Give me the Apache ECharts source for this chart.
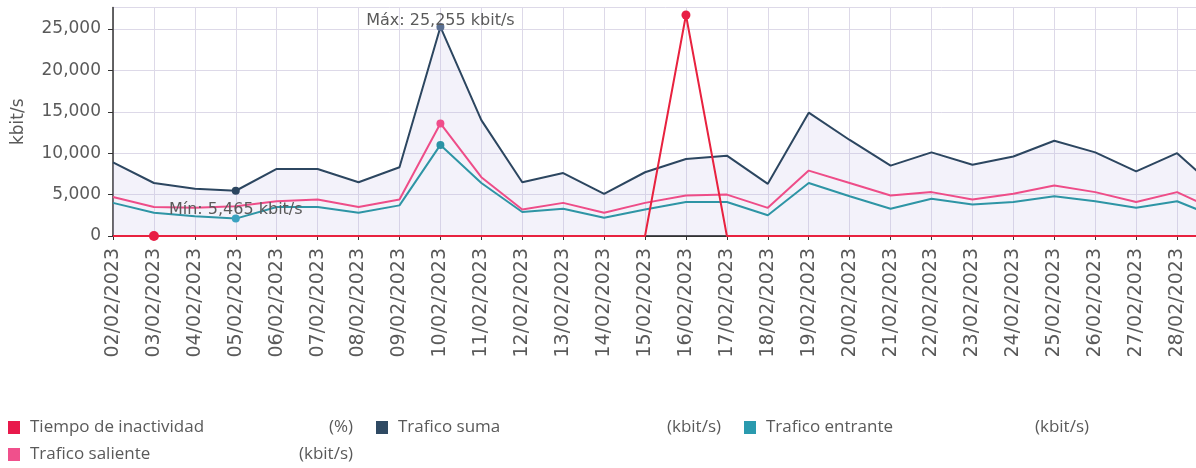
<!DOCTYPE html>
<html>
<head>
<meta charset="utf-8">
<script src="https://cdn.jsdelivr.net/npm/echarts@6/dist/echarts.min.js"></script>
<style>
html, body { margin: 0; padding: 0; background: #ffffff; overflow: hidden; }
/* el grafico original esta recortado a la derecha: el lienzo es mas ancho que la ventana */
#chart { width: 1230px; height: 468px; }
</style>
</head>
<body>
<div id="chart"></div>
<script>
// fechas (la ultima queda fuera del recorte, a la derecha)
var dates = ['02/02/2023', '03/02/2023', '04/02/2023', '05/02/2023', '06/02/2023', '07/02/2023',
  '08/02/2023', '09/02/2023', '10/02/2023', '11/02/2023', '12/02/2023', '13/02/2023', '14/02/2023',
  '15/02/2023', '16/02/2023', '17/02/2023', '18/02/2023', '19/02/2023', '20/02/2023', '21/02/2023',
  '22/02/2023', '23/02/2023', '24/02/2023', '25/02/2023', '26/02/2023', '27/02/2023', '28/02/2023',
  '01/03/2023']

var traficoSuma = [8900, 6400, 5700, 5465, 8100, 8100, 6500, 8300, 25255, 14000, 6500, 7600, 5100,
  7700, 9300, 9700, 6300, 14900, 11600, 8500, 10100, 8600, 9600, 11500, 10100, 7800, 10000, 5600]
var traficoSaliente = [4700, 3500, 3400, 3600, 4200, 4400, 3500, 4400, 13600, 7100, 3200, 4000, 2800,
  4000, 4900, 5000, 3400, 7900, 6400, 4900, 5300, 4400, 5100, 6100, 5300, 4100, 5300, 3000]
var traficoEntrante = [4000, 2800, 2400, 2100, 3500, 3500, 2800, 3700, 11000, 6400, 2900, 3300, 2200,
  3200, 4100, 4100, 2500, 6400, 4800, 3300, 4500, 3800, 4100, 4800, 4200, 3400, 4200, 2200]
var tiempoInactividad = [0, 0, 0, 0, 0, 0, 0, 0, 0, 0, 0, 0, 0,
  0, 26700, 0, 0, 0, 0, 0, 0, 0, 0, 0, 0, 0, 0, 0]

var yTicks = [0, 5000, 10000, 15000, 20000, 25000]

var seriesNames = ['Tiempo de inactividad', 'Trafico suma', 'Trafico entrante', 'Trafico saliente']
var seriesUnits = ['(%)', '(kbit/s)', '(kbit/s)', '(kbit/s)']

// puntos marcados (indices en dates)
var sumaMaxIdx = 8
var sumaMinIdx = 3
var inactMaxIdx = 14
var inactMinIdx = 1

var txt = '#5a5a5a'
var grid = '#ddd9e8'
var legendFont = 'Open Sans'

function fmt (v) {
  return Number(v).toLocaleString('en-US')
}

function dot (color, idx, values, size) {
  return { coord: [dates[idx], values[idx]], symbol: 'circle', symbolSize: size || 8,
    itemStyle: { color: color }, label: { show: false } }
}

function legendBox (names, top) {
  return {
    data: names,
    left: 8,
    top: top,
    padding: 0,
    itemGap: 23,
    itemWidth: 12,
    itemHeight: 13,
    icon: 'rect',
    formatter: function (name) {
      return '{n|' + name + '}{u|' + seriesUnits[seriesNames.indexOf(name)] + '}'
    },
    textStyle: {
      fontFamily: legendFont,
      fontSize: 17,
      color: txt,
      rich: {
        n: { width: 257, padding: [0, 0, 0, 5], fontFamily: legendFont, fontSize: 17, color: txt },
        u: { width: 66, align: 'right', fontFamily: legendFont, fontSize: 17, color: txt }
      }
    }
  }
}

var chart = echarts.init(document.getElementById('chart'))
chart.setOption({
  animation: false,
  backgroundColor: '#ffffff',
  textStyle: { fontFamily: 'DejaVu Sans' },
  grid: { left: 113, top: 7.5, right: 12, bottom: 232, containLabel: false },
  legend: [
    legendBox(seriesNames.slice(0, 3), 419),
    legendBox(seriesNames.slice(3), 446)
  ],
  xAxis: {
    type: 'category',
    data: dates,
    boundaryGap: false,
    offset: 5,
    axisLine: { lineStyle: { color: '#333333', width: 2 } },
    axisTick: { show: true, length: 4, interval: 0, lineStyle: { color: '#333333' } },
    axisLabel: { rotate: 90, interval: 0, color: txt, fontSize: 19, margin: 7 },
    splitLine: { show: true, interval: 0, lineStyle: { color: grid, width: 1 } }
  },
  yAxis: {
    type: 'value',
    min: 0,
    max: 27600,
    interval: 5000,
    name: 'kbit/s',
    nameLocation: 'middle',
    nameGap: 86,
    nameTextStyle: { color: txt, fontSize: 17 },
    axisLine: { show: true, lineStyle: { color: '#333333', width: 1.5 } },
    axisTick: { show: true, length: 5, lineStyle: { color: '#333333' } },
    axisLabel: {
      color: txt,
      fontSize: 17,
      margin: 12,
      showMaxLabel: false,
      formatter: function (v) { return yTicks.indexOf(v) >= 0 ? fmt(v) : '' }
    },
    splitLine: { show: true, lineStyle: { color: grid, width: 1 } }
  },
  series: [
    {
      name: 'Trafico suma',
      type: 'line',
      data: traficoSuma,
      symbol: 'none',
      color: '#2f4a63',
      lineStyle: { color: '#2c4660', width: 2 },
      areaStyle: { color: 'rgba(196, 190, 228, 0.28)' },
      markPoint: {
        data: [
          { coord: [dates[sumaMaxIdx], traficoSuma[sumaMaxIdx]], symbol: 'circle', symbolSize: 8,
            itemStyle: { color: '#5a6f92' },
            label: { show: true, position: 'inside', offset: [0, -6], color: txt, fontSize: 16,
              formatter: 'Máx: ' + fmt(traficoSuma[sumaMaxIdx]) + ' kbit/s' } },
          { coord: [dates[sumaMinIdx], traficoSuma[sumaMinIdx]], symbol: 'circle', symbolSize: 8,
            itemStyle: { color: '#2c4660' },
            label: { show: true, position: 'bottom', distance: 7, color: txt, fontSize: 16,
              formatter: 'Mín: ' + fmt(traficoSuma[sumaMinIdx]) + ' kbit/s' } }
        ]
      }
    },
    {
      name: 'Trafico entrante',
      type: 'line',
      data: traficoEntrante,
      symbol: 'none',
      color: '#2a9aae',
      lineStyle: { color: '#2e95a5', width: 2 },
      markPoint: {
        data: [dot('#2a93a5', sumaMaxIdx, traficoEntrante), dot('#3aa2c0', sumaMinIdx, traficoEntrante)]
      }
    },
    {
      name: 'Trafico saliente',
      type: 'line',
      data: traficoSaliente,
      symbol: 'none',
      color: '#f0508c',
      lineStyle: { color: '#ee4d88', width: 2 },
      markPoint: {
        data: [dot('#f04d8a', sumaMaxIdx, traficoSaliente)]
      }
    },
    {
      name: 'Tiempo de inactividad',
      type: 'line',
      data: tiempoInactividad,
      symbol: 'none',
      color: '#e8194b',
      lineStyle: { color: '#e8223f', width: 2 },
      markPoint: {
        data: [dot('#e81e45', inactMaxIdx, tiempoInactividad, 9), dot('#e81e45', inactMinIdx, tiempoInactividad, 10)]
      }
    }
  ]
})
</script>
</body>
</html>
